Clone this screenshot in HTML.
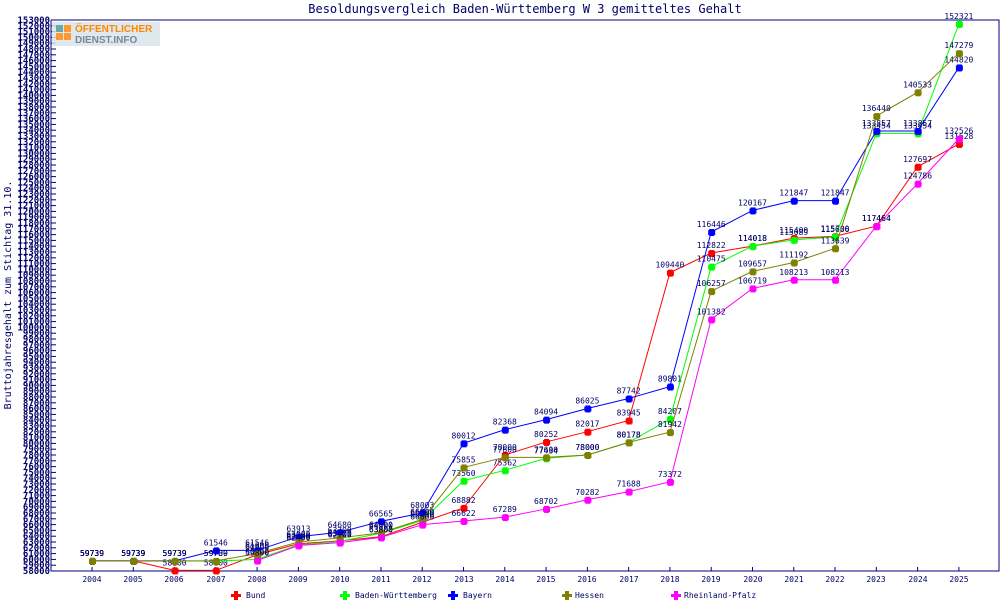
<!DOCTYPE html>
<html><head><meta charset="utf-8"><style>
body{margin:0;background:#fff}
svg{display:block}
text{font-family:"DejaVu Sans Mono","Liberation Mono",monospace;fill:#000066}
</style></head><body>
<svg id="s" width="1000" height="600" xmlns="http://www.w3.org/2000/svg">
<rect width="1000" height="600" fill="#fff"/>
<text x="525" y="13" font-size="12" text-anchor="middle">Besoldungsvergleich Baden-Württemberg W 3 gemitteltes Gehalt</text>
<text x="11" y="295" font-size="10" text-anchor="middle" transform="rotate(-90 11 295)">Bruttojahresgehalt zum Stichtag 31.10.</text>
<g id="ax"></g>
<g id="ylab" font-size="9" text-anchor="end" font-weight="bold"></g>
<g font-size="8" text-anchor="middle">
<text x="92" y="582">2004</text><text x="133" y="582">2005</text><text x="174" y="582">2006</text><text x="216" y="582">2007</text><text x="257" y="582">2008</text><text x="298" y="582">2009</text><text x="340" y="582">2010</text><text x="381" y="582">2011</text><text x="422" y="582">2012</text><text x="464" y="582">2013</text><text x="505" y="582">2014</text><text x="546" y="582">2015</text><text x="587" y="582">2016</text><text x="629" y="582">2017</text><text x="670" y="582">2018</text><text x="711" y="582">2019</text><text x="753" y="582">2020</text><text x="794" y="582">2021</text><text x="835" y="582">2022</text><text x="876" y="582">2023</text><text x="918" y="582">2024</text><text x="959" y="582">2025</text>
</g>
<g font-size="8">
<text x="246" y="598">Bund</text><text x="355" y="598">Baden-Württemberg</text><text x="463" y="598">Bayern</text><text x="575" y="598">Hessen</text><text x="684" y="598">Rheinland-Pfalz</text>
</g>
<g id="leg"></g>
<g id="ser"></g>
<rect x="52" y="22" width="108" height="24" fill="#d8e4ea" opacity="0.85"/>
<rect x="56" y="25" width="7" height="7" fill="#6aa"/><rect x="64" y="25" width="7" height="7" fill="#f93"/><rect x="56" y="33" width="7" height="7" fill="#f93"/><rect x="64" y="33" width="7" height="7" fill="#f93"/>
<text x="75" y="32" font-size="10" font-weight="bold" style="fill:#f80;font-family:'Liberation Sans',sans-serif">ÖFFENTLICHER</text>
<text x="75" y="43" font-size="10" font-weight="bold" style="fill:#789;font-family:'Liberation Sans',sans-serif">DIENST.INFO</text>
</svg>
<script>
const NS="http://www.w3.org/2000/svg";
function el(p,t,a,txt){const e=document.createElementNS(NS,t);for(const k in a)e.setAttribute(k,a[k]);if(txt!=null)e.textContent=txt;document.getElementById(p).appendChild(e);return e;}
const Y=v=>571-(v-58000)*551/95000, X=i=>92+i*41.28;
el("ax","polyline",{points:"51,20 999,20 999,571 51,571 51,20",fill:"none",stroke:"#000080","stroke-width":1});
for(let v=58000;v<=153000;v+=1000){const y=Y(v);el("ax","line",{x1:51,x2:56,y1:y,y2:y,stroke:"#000080"});el("ylab","text",{x:50,y:y+3},String(v));}
for(let i=0;i<22;i++)el("ax","line",{x1:X(i),x2:X(i),y1:571,y2:567,stroke:"#000080"});
const S=[
["#ff0000",[59739,59739,58100,58100,60800,62700,63200,63905,66400,68882,78000,80252,82017,83945,109440,112822,114018,115400,115700,117464,127697,131628]],
["#00ff00",[59739,59739,59739,59700,60000,62500,63100,64500,66700,73560,75362,77434,78000,80178,84207,110475,114018,115089,115606,133454,133454,152321]],
["#0000ff",[59739,59739,59739,61546,61546,63913,64680,66565,68003,80012,82368,84094,86025,87742,89801,116446,120167,121847,121847,133857,133857,144820]],
["#808000",[59739,59739,59739,59739,61000,63000,63700,64600,66900,75855,77600,77600,78000,80178,81942,106257,109657,111192,113639,136440,140533,147279]],
["#ff00ff",[null,null,null,null,59800,62400,62900,63800,66000,66622,67289,68702,70282,71688,73372,101382,106719,108213,108213,117464,124786,132526]]];
const LX=[236,345,453,567,676];
S.forEach(([c,d],k)=>{let pts=[];d.forEach((v,i)=>{if(v!=null)pts.push(X(i)+","+Y(v));});
el("ser","polyline",{points:pts.join(" "),fill:"none",stroke:c,"stroke-width":1});
d.forEach((v,i)=>{if(v==null)return;const x=X(i),y=Y(v);el("ser","rect",{x:x-3,y:y-2,width:7,height:5,fill:c});el("ser","rect",{x:x-2,y:y-3,width:5,height:7,fill:c});
el("ser","text",{x:x,y:y-5,"font-size":"8","text-anchor":"middle"},String(v));});
const lx=LX[k];el("leg","rect",{x:lx-5,y:594,width:10,height:3,fill:c});el("leg","rect",{x:lx-2,y:591,width:4,height:9,fill:c});});
</script>
</body></html>
